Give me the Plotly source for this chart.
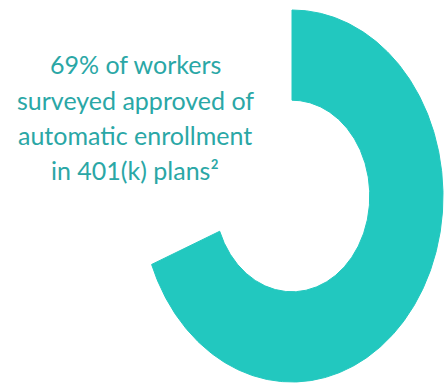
import numpy as np
import plotly.graph_objects as go

# Survey share shown by the ring
labels = ["Approved", "Other"]
shares = [69, 31]
caption_lines = [
    "69% of workers",
    "surveyed approved of",
    "automatic enrollment",
    "in 401(k) plans²",
]

RING_COLOR = "#22C8BF"
TEXT_COLOR = "#2AA7A6"
HOLE = 0.515

fig = go.Figure()

# Ring segment: starts at 12 o'clock and runs clockwise for the approved share
frac = shares[0] / sum(shares)
theta = np.linspace(np.pi / 2, np.pi / 2 - 2 * np.pi * frac, 400)
xs = np.concatenate([np.cos(theta), HOLE * np.cos(theta[::-1]), [np.cos(theta[0])]])
ys = np.concatenate([np.sin(theta), HOLE * np.sin(theta[::-1]), [np.sin(theta[0])]])
fig.add_trace(go.Scatter(
    x=xs, y=ys, mode="lines", fill="toself",
    fillcolor=RING_COLOR, line=dict(color=RING_COLOR, width=1),
    name=labels[0], hoverinfo="name", showlegend=False,
))

# Caption lines
line_y = [64, 100, 135, 170]
for txt, py in zip(caption_lines, line_y):
    fig.add_annotation(
        text=txt, xref="paper", yref="paper",
        x=135 / 444, y=1 - py / 384, xanchor="center", yanchor="middle",
        showarrow=False,
        font=dict(family="Lato", size=25, color=TEXT_COLOR),
    )

fig.update_layout(
    width=444, height=384,
    margin=dict(l=0, r=0, t=0, b=0),
    paper_bgcolor="white", plot_bgcolor="white",
    xaxis=dict(range=[-292 / 151, 152 / 151], visible=False, fixedrange=True),
    yaxis=dict(range=[(196 - 384) / 186, 196 / 186], visible=False, fixedrange=True),
)

fig.write_html("out.html")
